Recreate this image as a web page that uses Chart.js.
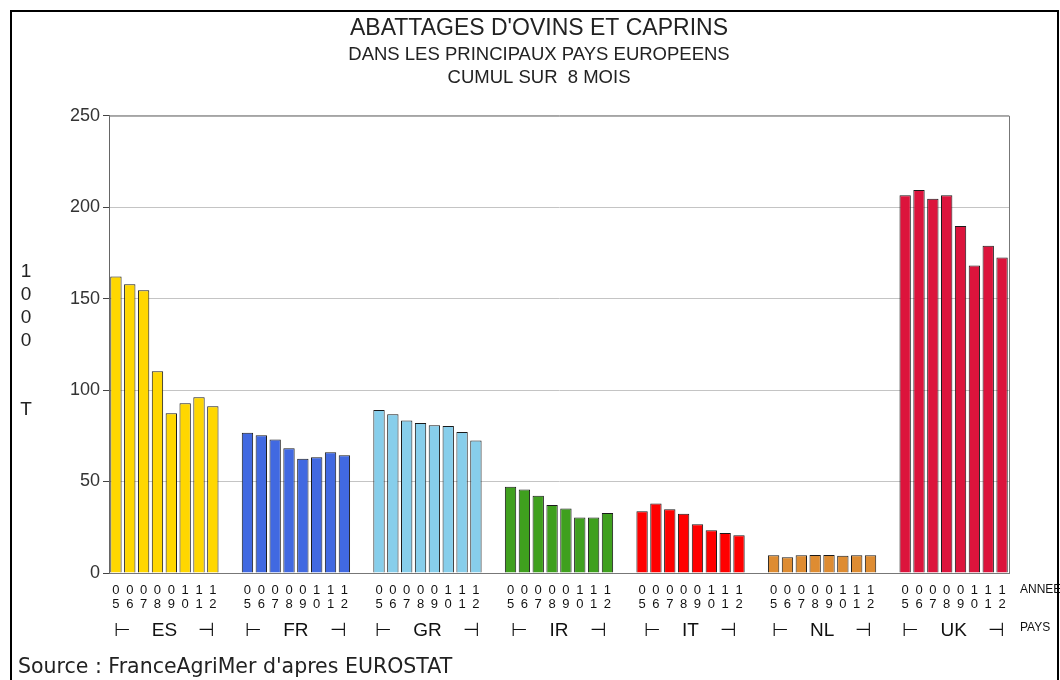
<!DOCTYPE html>
<html><head><meta charset="utf-8">
<script src="https://cdn.jsdelivr.net/npm/chart.js@4.4.1/dist/chart.umd.min.js"></script>
<style>html,body{margin:0;padding:0;background:#fff;} canvas{display:block;}</style>
</head><body>
<canvas id="c" width="1060" height="680"></canvas>
<script>
// ---------- data ----------
const countries = ['ES','FR','GR','IR','IT','NL','UK'];
const yearLabels = ['05','06','07','08','09','10','11','12'];
const valuesES = [162.1,157.8,154.5,110.3,87.3,92.8,96.1,91.2];
const valuesFR = [76.6,75.3,73.0,68.2,62.4,63.3,66.0,64.4];
const valuesGR = [89.1,86.8,83.4,82.0,80.8,80.4,77.0,72.4];
const valuesIR = [47.1,45.7,42.2,37.1,35.3,30.4,30.4,32.8];
const valuesIT = [33.7,38.0,34.9,32.4,26.7,23.3,21.8,20.7];
const valuesNL = [9.7,8.6,9.7,9.8,9.8,9.4,9.7,9.7];
const valuesUK = [206.5,209.4,204.5,206.5,189.6,168.1,178.9,172.5];
const countryColors = ['#FFD700','#4169E1','#87CEEB','#3FA01E','#FF0000','#DE8C32','#DC143C'];
const yMin = 0, yMax = 250, yStep = 50;
const unitLabel = ['1','0','0','0','','','T'];
const titleText = "ABATTAGES D'OVINS ET CAPRINS";
const subtitleText = ['DANS LES PRINCIPAUX PAYS EUROPEENS', 'CUMUL SUR  8 MOIS'];
const sourceText = "Source : FranceAgriMer d'apres EUROSTAT";
const yearAxisName = 'ANNEE';
const countryAxisName = 'PAYS';

// ---------- build table ----------
const seriesByCountry = [valuesES, valuesFR, valuesGR, valuesIR, valuesIT, valuesNL, valuesUK];
const GAP = 1.5;
const groupStep = yearLabels.length + GAP;
const points = [], pointColors = [], yearTicks = [], groupTicks = [];
seriesByCountry.forEach((vals, g) => {
  vals.forEach((v, i) => {
    const x = g * groupStep + i;
    points.push({x: x, y: v});
    pointColors.push(countryColors[g]);
    yearTicks.push({value: x, year: yearLabels[i]});
  });
  groupTicks.push({value: g * groupStep + (vals.length - 1) / 2, name: countries[g]});
});
const xMin = -0.5;
const xMax = (countries.length - 1) * groupStep + yearLabels.length - 0.5;

const FONT = "'Liberation Sans', Arial, sans-serif";
const FONT2 = "'DejaVu Sans', sans-serif";

const decor = {
  id: 'decor',
  afterDraw(chart) {
    const ctx = chart.ctx, a = chart.chartArea;
    ctx.save();
    ctx.strokeStyle = '#777';
    ctx.lineWidth = 1;
    ctx.beginPath();
    ctx.moveTo(a.left, a.top + 0.5); ctx.lineTo(a.right + 0.5, a.top + 0.5); ctx.lineTo(a.right + 0.5, a.bottom);
    ctx.stroke();
    ctx.fillStyle = '#222';
    ctx.textAlign = 'center';
    ctx.textBaseline = 'middle';
    ctx.font = '19px ' + FONT;
    unitLabel.forEach((t, i) => ctx.fillText(t, 26, 272 + i * 23));
    ctx.textAlign = 'left';
    ctx.font = '12px ' + FONT;
    ctx.fillStyle = '#111';
    ctx.fillText(yearAxisName, a.right + 11, 590);
    ctx.fillText(countryAxisName, a.right + 11, 628);
    ctx.font = '20.5px ' + FONT2;
    ctx.fillStyle = '#222';
    ctx.fillText(sourceText, 18, 668);
    ctx.strokeStyle = '#000';
    ctx.lineWidth = 2;
    ctx.strokeRect(11, 11, 1047, 720);
    ctx.restore();
  }
};

new Chart(document.getElementById('c'), {
  type: 'bar',
  data: {
    datasets: [{
      data: points,
      backgroundColor: pointColors,
      borderColor: '#1a1a1a',
      borderWidth: 1,
      barPercentage: 0.82,
      categoryPercentage: 1
    }]
  },
  options: {
    responsive: false,
    animation: false,
    layout: {padding: {left: 69, right: 51, top: 0, bottom: 31}},
    plugins: {
      legend: {display: false},
      tooltip: {enabled: false},
      title: {
        display: true, text: titleText, color: '#222',
        font: {family: FONT, size: 23, weight: 'normal', lineHeight: 1.2},
        padding: {top: 15, bottom: 0}
      },
      subtitle: {
        display: true, text: subtitleText, color: '#222',
        font: {family: FONT, size: 18.5, weight: 'normal', lineHeight: '23px'},
        padding: {top: 1, bottom: 26}
      }
    },
    scales: {
      x: {
        type: 'linear', position: 'bottom', min: xMin, max: xMax, weight: 0, offset: false,
        grid: {display: false, drawTicks: false, offset: false},
        border: {display: true, color: '#777'},
        afterBuildTicks: s => { s.ticks = yearTicks.map(t => ({value: t.value})); },
        ticks: {
          autoSkip: false, maxRotation: 0, color: '#111', padding: 10,
          font: {family: FONT, size: 13, lineHeight: '14px'},
          callback: (v, i) => yearTicks[i].year.split('')
        },
        afterFit: s => { s.height = 42; }
      },
      x2: {
        type: 'linear', position: 'bottom', min: xMin, max: xMax, weight: 1, offset: false,
        grid: {display: false, drawTicks: false, offset: false},
        border: {display: false},
        afterBuildTicks: s => { s.ticks = groupTicks.map(t => ({value: t.value})); },
        ticks: {
          autoSkip: false, maxRotation: 0, color: '#111', padding: 5,
          font: {family: FONT, size: 19, lineHeight: '22px'},
          callback: (v, i) => '\u22A2    ' + groupTicks[i].name + '    \u22A3'
        },
        afterFit: s => { s.height = 34; }
      },
      y: {
        min: yMin, max: yMax,
        ticks: {stepSize: yStep, color: '#333', padding: 3, font: {family: FONT, size: 18}},
        grid: {color: '#c4c4c4', tickColor: '#444', tickLength: 6},
        border: {color: '#666'},
        afterFit: s => { s.width = 40; }
      }
    }
  },
  plugins: [decor]
});
</script>
</body></html>
